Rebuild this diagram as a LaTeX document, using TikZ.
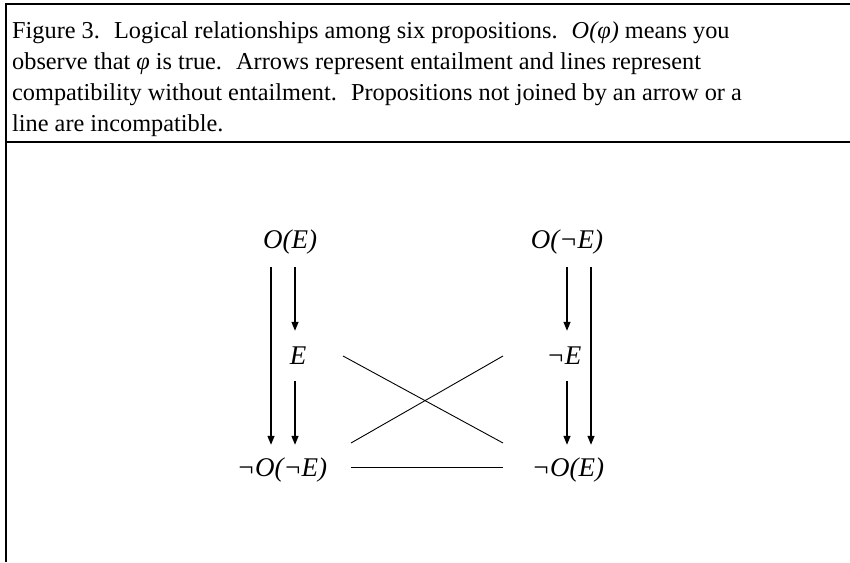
\documentclass[tikz,border=0pt]{standalone}
\usepackage{fontspec}
\setmainfont{Liberation Serif}
\usepackage{tikz}
\usetikzlibrary{arrows.meta,positioning,calc}

\begin{document}
\begin{tikzpicture}[
  x=1pt, y=1pt,
  font=\fontsize{24.3}{31.3}\selectfont,
  prop/.style={inner sep=0pt, minimum height=50pt, font=\fontsize{27}{31}\selectfont\itshape},
  entail/.style={draw, line width=1.3pt, -{Triangle[length=9pt,width=7pt]}},
  compat/.style={draw, line width=0.9pt},
  rule/.style={draw, line width=2.5pt},
]
\useasboundingbox (0,0) rectangle (850,562);

% frame of the figure
\coordinate (tl) at (6,558);
\coordinate (tr) at (850,558);
\coordinate (ml) at (6,420);
\coordinate (mr) at (850,420);
\coordinate (bl) at (6,0);
\draw[rule] (5,558) -- (tr);
\draw[rule] (tl) -- (bl);
\draw[rule, line width=2pt] (ml) -- (mr);

% caption
\node[anchor=north west, inner sep=0pt, align=left] (cap) at (12,541)
  {Figure 3.~ Logical relationships among six propositions.~ \textit{O(φ)} means you\\
   observe that \textit{φ} is true.~ Arrows represent entailment and lines represent\\
   compatibility without entailment.~ Propositions not joined by an arrow or a\\
   line are incompatible.};

% the six propositions
\node[prop] (OE)   at (290,320) {O(E)};
\node[prop] (OnE)  at (567,320) {O(¬E)};
\node[prop] (E)    at (298,206) {E};
\node[prop] (nE)   at (564,206) {¬E};
\node[prop] (nOnE) at (282,92)  {¬O(¬E)};
\node[prop] (nOE)  at (568,92)  {¬O(E)};

% entailments
\draw[entail] ([xshift=-19pt]OE.south) -- ([xshift=-19pt]OE.south |- nOnE.north);
\draw[entail] ([xshift=5pt]OE.south) -- ([xshift=5pt]OE.south |- E.north);
\draw[entail] ([xshift=-3pt]E.south) -- ([xshift=-3pt]E.south |- nOnE.north);
\draw[entail] (OnE.south) -- (OnE.south |- nE.north);
\draw[entail] ([xshift=3pt]nE.south) -- ([xshift=3pt]nE.south |- nOE.north);
\draw[entail] ([xshift=24pt]OnE.south) -- ([xshift=24pt]OnE.south |- nOE.north);

% compatibilities
\draw[compat] ([xshift=45pt]E.center) -- ([xshift=-65pt,yshift=27pt]nOE.center);
\draw[compat] ([xshift=69pt,yshift=27pt]nOnE.center) -- ([xshift=-61pt]nE.center);
\draw[compat] ([xshift=69pt,yshift=3pt]nOnE.center) -- ([xshift=-65pt,yshift=3pt]nOE.center);
\end{tikzpicture}
\end{document}
